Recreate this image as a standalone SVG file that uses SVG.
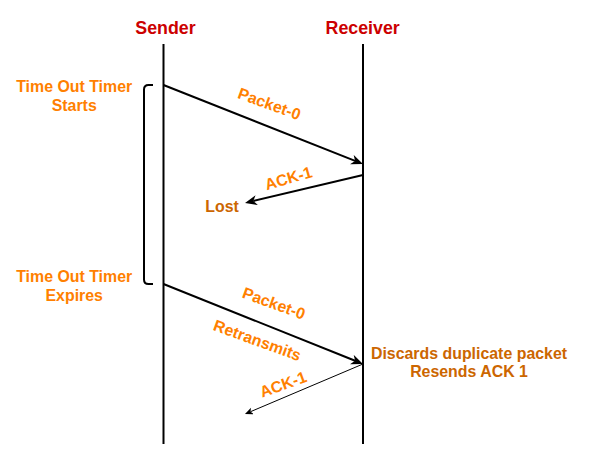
<svg xmlns="http://www.w3.org/2000/svg" width="589" height="473" viewBox="0 0 589 473">
<style>
text{font-family:"Liberation Sans",Arial,sans-serif;font-weight:bold;text-anchor:middle}
.hdr{font-size:17.8px;fill:#CC0000}
.lbl{font-size:15.9px;fill:#FF8000}
.note{font-size:15.9px;fill:#CC6600}
.life{stroke:#000;stroke-width:2;fill:none}
.msg{stroke:#000;stroke-width:2;fill:none}
.thin{stroke:#000;stroke-width:1;fill:none}
</style>
<defs>
<marker id="ah" markerUnits="userSpaceOnUse" markerWidth="13" markerHeight="11" refX="3.5" refY="5" orient="auto">
<path d="M0,0 L12,5 L0,10 L3.5,5 z" fill="#000"/>
</marker>
<marker id="ahs" markerUnits="userSpaceOnUse" markerWidth="10" markerHeight="8" refX="2" refY="3.5" orient="auto">
<path d="M0,0 L8,3.5 L0,7 L2,3.5 z" fill="#000"/>
</marker>
</defs>
<g id="sender">
<text class="hdr" x="165.5" y="34">Sender</text>
<line class="life" x1="163.5" y1="44" x2="163.5" y2="444"/>
</g>
<g id="receiver">
<text class="hdr" x="362.7" y="33.5">Receiver</text>
<line class="life" x1="363" y1="44" x2="363" y2="444"/>
</g>
<g id="timer">
<path class="life" d="M153,85 L148.5,85 Q144,85 144,89.5 L144,279.5 Q144,284 148.5,284 L153,284"/>
<text class="lbl" x="74.2" y="91.5">Time Out Timer</text>
<text class="lbl" x="74.2" y="111">Starts</text>
<text class="lbl" x="74.2" y="282">Time Out Timer</text>
<text class="lbl" x="74.2" y="301">Expires</text>
</g>
<g id="notes">
<text class="note" x="222" y="212">Lost</text>
<text class="note" x="469" y="358.5">Discards duplicate packet</text>
<text class="note" x="469" y="377">Resends ACK 1</text>
</g>
<g id="connectors">
<line class="msg" x1="163.5" y1="85" x2="355.1" y2="160.9" marker-end="url(#ah)"/>
<line class="msg" x1="363" y1="175" x2="253.3" y2="201" marker-end="url(#ah)"/>
<line class="msg" x1="163.5" y1="284" x2="355.1" y2="360.8" marker-end="url(#ah)"/>
<line class="thin" x1="363" y1="364" x2="250.5" y2="411.7" marker-end="url(#ahs)"/>
</g>
<g id="connector-labels">
<text class="lbl" transform="translate(267.5,109) rotate(20)">Packet-0</text>
<text class="lbl" transform="translate(290,183.5) rotate(-16)">ACK-1</text>
<text class="lbl" transform="translate(272,308.5) rotate(20)">Packet-0</text>
<text class="lbl" transform="translate(255.5,345.5) rotate(20)">Retransmits</text>
<text class="lbl" transform="translate(285,389.5) rotate(-20)">ACK-1</text>
</g>
</svg>
